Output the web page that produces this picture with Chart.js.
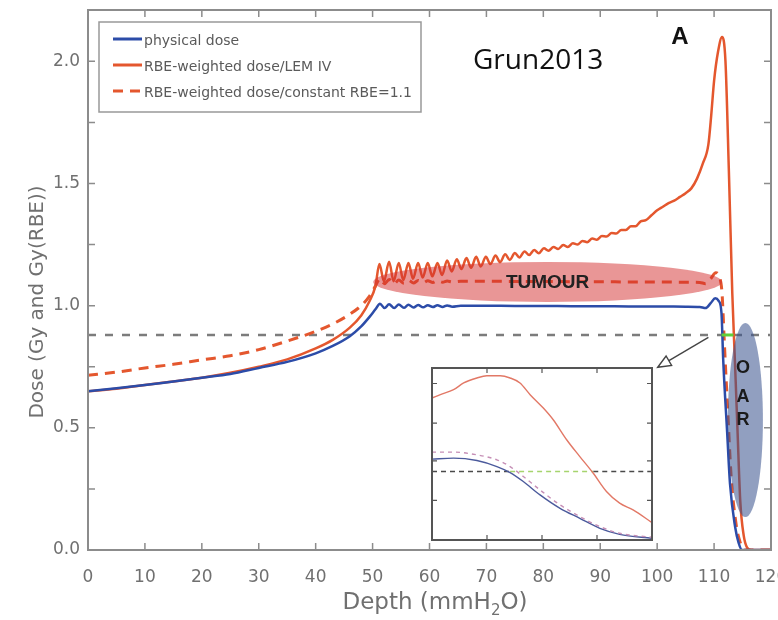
<!DOCTYPE html>
<html>
<head>
<meta charset="utf-8">
<title>Depth dose</title>
<script src="https://cdn.jsdelivr.net/npm/chart.js@4.4.1/dist/chart.umd.min.js"></script>
<style>
  html, body { margin: 0; padding: 0; background: #fff; }
  #wrap { position: relative; width: 778px; height: 620px; overflow: hidden; }
  #main { position: absolute; left: 0; top: 0; }
  #inset { position: absolute; left: 431px; top: 367px; }
</style>
</head>
<body>
<div id="wrap">
  <canvas id="main" width="778" height="620"></canvas>
  <canvas id="inset" width="222" height="174"></canvas>
</div>
<script>
// main plot, depth in mm H2O, dose in Gy / Gy(RBE)
const physDepth = [0, 5, 10, 15, 20, 25, 30, 35, 40, 43, 46, 48, 49.5, 50.5, 51.3, 52.1, 52.9, 53.8, 54.6, 55.5, 56.3, 57.2, 58.0, 58.9, 59.7, 60.6, 61.4, 62.3, 63.1, 64.0, 65.5, 70, 75, 80, 85, 90, 95, 100, 105, 107.5, 108.5, 109.4, 110.2, 110.8, 111.3, 111.6, 112.3, 112.8, 113.7, 114.3, 114.9, 120];
const physDose = [0.65, 0.662, 0.675, 0.69, 0.705, 0.72, 0.745, 0.77, 0.805, 0.835, 0.875, 0.915, 0.955, 0.985, 1.008, 0.99, 1.006, 0.99, 1.005, 0.991, 1.004, 0.992, 1.003, 0.993, 1.002, 0.994, 1.002, 0.995, 1.001, 0.996, 1.0, 1.0, 0.999, 0.999, 0.998, 0.998, 0.997, 0.997, 0.996, 0.995, 0.99, 1.01, 1.03, 1.02, 0.97, 0.78, 0.48, 0.27, 0.094, 0.03, 0, 0];

const lemDepth = [0, 5, 10, 15, 20, 25, 30, 35, 40, 43, 46, 48, 49.5, 50.5, 51.2,
  52.0, 52.9, 53.7, 54.6, 55.4, 56.3, 57.1, 58.0, 58.8, 59.7,
  60.5, 61.4, 62.2, 63.1, 63.9, 64.8, 65.6, 66.5, 67.3, 68.2,
  69.0, 69.9, 70.7, 71.6, 72.4, 73.3, 74.1, 75.0, 75.8, 76.7,
  77.5, 78.4, 79.2, 80.1, 80.9, 81.8, 82.6, 83.5, 84.3, 85.2,
  86.0, 86.9, 87.7, 88.6, 89.4, 90.3, 91.1, 92.0, 92.8, 93.7,
  94.5, 95.4, 96.2, 97.1,
  98, 99, 100, 101, 102, 103, 104, 105, 106, 107, 108, 109,
  109.5, 110, 110.7, 111.4, 112.0, 112.6, 113.2, 113.7, 114.1, 114.6, 115.2, 115.8, 116.5, 120];
const lemDose = [0.65, 0.66, 0.675, 0.69, 0.705, 0.725, 0.75, 0.78, 0.825, 0.86, 0.91, 0.96, 1.02, 1.08, 1.17,
  1.10, 1.18, 1.10, 1.175, 1.105, 1.175, 1.11, 1.175, 1.115, 1.175,
  1.12, 1.175, 1.125, 1.185, 1.14, 1.19, 1.15, 1.195, 1.155, 1.20,
  1.16, 1.20, 1.17, 1.205, 1.178, 1.21, 1.187, 1.215, 1.197, 1.222,
  1.207, 1.228, 1.214, 1.235, 1.225, 1.24, 1.232, 1.248, 1.24, 1.255,
  1.25, 1.265, 1.26, 1.275, 1.27, 1.285, 1.283, 1.297, 1.295, 1.31,
  1.31, 1.325, 1.325, 1.345,
  1.35, 1.37, 1.39, 1.405, 1.42, 1.43, 1.445, 1.46, 1.48, 1.52, 1.58, 1.66,
  1.78, 1.92, 2.04, 2.10, 2.0, 1.55, 1.05, 0.75, 0.5, 0.2, 0.06, 0.01, 0, 0];

const constDepth = [0, 5, 10, 15, 20, 25, 30, 35, 40, 43, 46, 48, 49.5, 50.5, 51.3, 52.1, 52.9, 53.8, 54.6, 55.5, 56.3, 57.2, 58.0, 58.9, 59.7, 60.6, 61.4, 62.3, 63.1, 64.0, 65.5, 70, 75, 80, 85, 90, 95, 100, 105, 107.5, 108.5, 109.4, 110.3, 110.9, 111.4, 111.8, 112.5, 113.0, 113.9, 114.6, 115.3, 120];
const constDose = [0.715, 0.728, 0.745, 0.76, 0.778, 0.795, 0.82, 0.855, 0.895, 0.925, 0.965, 1.0, 1.04, 1.08, 1.11, 1.09, 1.107, 1.09, 1.105, 1.092, 1.104, 1.093, 1.103, 1.094, 1.102, 1.095, 1.102, 1.096, 1.101, 1.097, 1.1, 1.1, 1.099, 1.099, 1.098, 1.098, 1.097, 1.097, 1.096, 1.095, 1.09, 1.11, 1.135, 1.12, 1.05, 0.85, 0.52, 0.3, 0.1, 0.03, 0, 0];

const refDepth = [0, 120];
const refDose = [0.88, 0.88];
const greenDepth = [111.3, 113.4];
const greenDose = [0.88, 0.88];

const seriesLabels = ['physical dose', 'RBE-weighted dose/LEM IV', 'RBE-weighted dose/constant RBE=1.1'];

// inset (arbitrary 0-100 units)
const insetLemX = [0, 3.8, 9.8, 14.4, 20.4, 24.9, 31, 35.5, 40, 44.6, 50.6, 55.1, 61.2, 67.2, 73.3, 79.3, 85.3, 91.4, 100];
const insetLemY = [82.5, 84.5, 87.4, 91.3, 94.2, 95.5, 95.5, 94.2, 91.3, 84.5, 76.7, 69.9, 58.3, 48.5, 38.8, 28.2, 21.4, 17.5, 10.1];
const insetConstX = [0, 9.8, 20.4, 29.5, 35.5, 41.5, 49.1, 58.2, 67.2, 76.3, 85.3, 100];
const insetConstY = [51.1, 51.1, 49.5, 46.6, 42.7, 36.9, 29.1, 20.4, 13.6, 7.8, 3.9, 1.6];
const insetPhysX = [0, 9.8, 20.4, 29.5, 35.5, 41.5, 49.1, 58.2, 67.2, 76.3, 85.3, 100];
const insetPhysY = [47, 47.6, 46.2, 42.7, 39.2, 34, 26.2, 18.4, 12.6, 6.8, 3.3, 1];
const insetRefY = 39.8;
const insetGreenX = [35.5, 73.3];
const insetXTicks = [25, 50, 75];
const insetYTicks = [23, 46, 68, 91];

const pts = (xs, ys) => xs.map((v, i) => ({ x: v, y: ys[i] }));

const BLUE = '#2c4ca8';
const RED = '#e4572e';
const AXIS = '#8c8c8c';
const TEXT = '#707070';

const overlay = {
  id: 'overlay',
  afterDatasetsDraw(chart) {
    const { ctx, chartArea: a, scales: { x, y } } = chart;
    const px = v => x.getPixelForValue(v);
    const py = v => y.getPixelForValue(v);
    ctx.save();

    // tumour region
    ctx.fillStyle = 'rgba(212, 46, 46, 0.5)';
    ctx.beginPath();
    ctx.ellipse(px(80.75), py(1.097), px(111.4) - px(80.75), py(1.015) - py(1.097), 0, 0, Math.PI * 2);
    ctx.fill();
    ctx.fillStyle = '#222';
    ctx.font = 'bold 19px "Liberation Sans", Arial, sans-serif';
    ctx.textAlign = 'center';
    ctx.textBaseline = 'middle';
    ctx.fillText('TUMOUR', px(80.75), py(1.097) + 1);

    // organ at risk
    ctx.fillStyle = 'rgba(55, 80, 140, 0.55)';
    ctx.beginPath();
    ctx.ellipse(px(115.5), py(0.532), px(118.58) - px(115.5), py(0.135) - py(0.532), 0, 0, Math.PI * 2);
    ctx.fill();
    ctx.fillStyle = '#1a1a1a';
    ctx.font = 'bold 18px "Liberation Sans", Arial, sans-serif';
    ctx.fillText('O', px(115.1), py(0.745));
    ctx.fillText('A', px(115.1), py(0.626));
    ctx.fillText('R', px(115.1), py(0.532));

    // arrow to inset
    const x0 = px(109.0), y0 = py(0.87), x1 = px(100.1), y1 = py(0.748);
    const ang = Math.atan2(y1 - y0, x1 - x0);
    ctx.strokeStyle = '#444';
    ctx.lineWidth = 1.4;
    ctx.beginPath();
    ctx.moveTo(x0, y0);
    ctx.lineTo(x1 - 13 * Math.cos(ang), y1 - 13 * Math.sin(ang));
    ctx.stroke();
    ctx.beginPath();
    ctx.moveTo(x1, y1);
    ctx.lineTo(x1 - 14 * Math.cos(ang - 0.4), y1 - 14 * Math.sin(ang - 0.4));
    ctx.lineTo(x1 - 14 * Math.cos(ang + 0.4), y1 - 14 * Math.sin(ang + 0.4));
    ctx.closePath();
    ctx.fillStyle = '#fff';
    ctx.fill();
    ctx.stroke();

    // frame and inward ticks
    ctx.strokeStyle = AXIS;
    ctx.lineWidth = 2;
    ctx.strokeRect(a.left, a.top, a.right - a.left, a.bottom - a.top);
    ctx.lineWidth = 1.5;
    ctx.beginPath();
    for (let v = 10; v < 120; v += 10) {
      ctx.moveTo(px(v), a.bottom); ctx.lineTo(px(v), a.bottom - 7);
      ctx.moveTo(px(v), a.top); ctx.lineTo(px(v), a.top + 7);
    }
    for (let v = 0.25; v < 2.2; v += 0.25) {
      ctx.moveTo(a.left, py(v)); ctx.lineTo(a.left + 7, py(v));
      ctx.moveTo(a.right, py(v)); ctx.lineTo(a.right - 7, py(v));
    }
    ctx.stroke();

    // legend
    const lx = a.left + 11, ly = a.top + 12;
    ctx.fillStyle = '#fff';
    ctx.fillRect(lx, ly, 322, 90);
    ctx.strokeStyle = '#999';
    ctx.lineWidth = 1.5;
    ctx.strokeRect(lx, ly, 322, 90);
    ctx.font = '14px "DejaVu Sans", sans-serif';
    ctx.textAlign = 'left';
    ctx.textBaseline = 'middle';
    seriesLabels.forEach((lab, i) => {
      const ds = chart.data.datasets.find(d => d.label === lab);
      const ry = ly + 17 + i * 26;
      ctx.strokeStyle = ds.borderColor;
      ctx.lineWidth = 3;
      ctx.setLineDash(ds.borderDash || []);
      ctx.beginPath();
      ctx.moveTo(lx + 14, ry);
      ctx.lineTo(lx + 43, ry);
      ctx.stroke();
      ctx.setLineDash([]);
      ctx.fillStyle = '#5a5a5a';
      ctx.fillText(lab, lx + 45, ry + 2);
    });

    // labels
    ctx.fillStyle = '#111';
    ctx.font = '28px "Open Sans", sans-serif';
    ctx.textAlign = 'left';
    ctx.fillText('Grun2013', 473, 61);
    ctx.font = 'bold 24px "Liberation Sans", Arial, sans-serif';
    ctx.textAlign = 'center';
    ctx.fillText('A', 680, 37);

    // axis titles
    ctx.fillStyle = TEXT;
    ctx.font = '20px "DejaVu Sans", sans-serif';
    ctx.save();
    ctx.translate(38, 302);
    ctx.rotate(-Math.PI / 2);
    ctx.fillText('Dose (Gy and Gy(RBE))', 0, 0);
    ctx.restore();
    const p1 = 'Depth (mmH', p2 = '2', p3 = 'O)';
    const big = '23px "DejaVu Sans", sans-serif', small = '15px "DejaVu Sans", sans-serif';
    ctx.font = big; const w1 = ctx.measureText(p1).width, w3 = ctx.measureText(p3).width;
    ctx.font = small; const w2 = ctx.measureText(p2).width;
    let tx = 435 - (w1 + w2 + w3) / 2;
    ctx.textAlign = 'left';
    ctx.font = big; ctx.fillText(p1, tx, 603); tx += w1;
    ctx.font = small; ctx.fillText(p2, tx, 611); tx += w2;
    ctx.font = big; ctx.fillText(p3, tx, 603);

    ctx.restore();
  }
};

new Chart(document.getElementById('main'), {
  type: 'line',
  data: {
    datasets: [
      { label: 'margin', data: pts(greenDepth, greenDose), borderColor: '#5fcf3a', borderWidth: 3, pointRadius: 0 },
      { label: seriesLabels[0], data: pts(physDepth, physDose), borderColor: BLUE, borderWidth: 2.5, pointRadius: 0, cubicInterpolationMode: 'monotone' },
      { label: seriesLabels[1], data: pts(lemDepth, lemDose), borderColor: RED, borderWidth: 2.5, pointRadius: 0, cubicInterpolationMode: 'monotone' },
      { label: seriesLabels[2], data: pts(constDepth, constDose), borderColor: RED, borderWidth: 3, borderDash: [10, 7], pointRadius: 0, cubicInterpolationMode: 'monotone' },
      { label: 'reference', data: pts(refDepth, refDose), borderColor: '#7c7c7c', borderWidth: 2.5, borderDash: [8, 9], pointRadius: 0 }
    ]
  },
  options: {
    responsive: false,
    animation: false,
    layout: { padding: { left: 0, right: 7, top: 10, bottom: 0 } },
    plugins: { legend: { display: false }, tooltip: { enabled: false } },
    scales: {
      x: {
        type: 'linear', min: 0, max: 120,
        grid: { display: false, drawTicks: false }, border: { display: false },
        ticks: { stepSize: 10, padding: 17, color: TEXT, font: { family: 'DejaVu Sans', size: 17 }, maxRotation: 0 },
        afterFit(s) { s.height = 70; s.paddingLeft = 0; s.paddingRight = 0; }
      },
      y: {
        type: 'linear', min: 0, max: 2.21,
        grid: { display: false, drawTicks: false }, border: { display: false },
        ticks: { stepSize: 0.5, includeBounds: false, padding: 8, color: TEXT, font: { family: 'DejaVu Sans', size: 17 }, callback: v => v.toFixed(1) },
        afterFit(s) { s.width = 88; s.paddingTop = 0; s.paddingBottom = 0; }
      }
    }
  },
  plugins: [overlay]
});

const insetFrame = {
  id: 'insetFrame',
  beforeDraw(chart) {
    const { ctx, width, height } = chart;
    ctx.save();
    ctx.fillStyle = '#fff';
    ctx.fillRect(0, 0, width, height);
    ctx.restore();
  },
  afterDraw(chart) {
    const { ctx, chartArea: a, scales: { x, y } } = chart;
    ctx.save();
    ctx.strokeStyle = '#555';
    ctx.lineWidth = 2;
    ctx.strokeRect(a.left, a.top, a.right - a.left, a.bottom - a.top);
    ctx.lineWidth = 1.2;
    ctx.beginPath();
    insetXTicks.forEach(v => {
      const p = x.getPixelForValue(v);
      ctx.moveTo(p, a.bottom); ctx.lineTo(p, a.bottom - 5);
      ctx.moveTo(p, a.top); ctx.lineTo(p, a.top + 5);
    });
    insetYTicks.forEach(v => {
      const p = y.getPixelForValue(v);
      ctx.moveTo(a.left, p); ctx.lineTo(a.left + 5, p);
      ctx.moveTo(a.right, p); ctx.lineTo(a.right - 5, p);
    });
    ctx.stroke();
    ctx.restore();
  }
};

new Chart(document.getElementById('inset'), {
  type: 'line',
  data: {
    datasets: [
      { data: pts(insetLemX, insetLemY), borderColor: '#e27866', borderWidth: 1.4, pointRadius: 0, cubicInterpolationMode: 'monotone' },
      { data: pts(insetConstX, insetConstY), borderColor: '#c68fb6', borderWidth: 1.4, borderDash: [4, 4], pointRadius: 0, cubicInterpolationMode: 'monotone' },
      { data: pts(insetPhysX, insetPhysY), borderColor: '#4b5a9c', borderWidth: 1.4, pointRadius: 0, cubicInterpolationMode: 'monotone' },
      { data: pts([0, insetGreenX[0]], [insetRefY, insetRefY]), borderColor: '#4a4a4a', borderWidth: 1.6, borderDash: [5, 4], pointRadius: 0 },
      { data: pts(insetGreenX, [insetRefY, insetRefY]), borderColor: '#a6d46e', borderWidth: 1.6, borderDash: [5, 4], pointRadius: 0 },
      { data: pts([insetGreenX[1], 100], [insetRefY, insetRefY]), borderColor: '#4a4a4a', borderWidth: 1.6, borderDash: [5, 4], pointRadius: 0 }
    ]
  },
  options: {
    responsive: false,
    animation: false,
    layout: { padding: 1 },
    plugins: { legend: { display: false }, tooltip: { enabled: false } },
    scales: {
      x: { type: 'linear', min: 0, max: 100, display: false },
      y: { type: 'linear', min: 0, max: 100, display: false }
    }
  },
  plugins: [insetFrame]
});
</script>
</body>
</html>
